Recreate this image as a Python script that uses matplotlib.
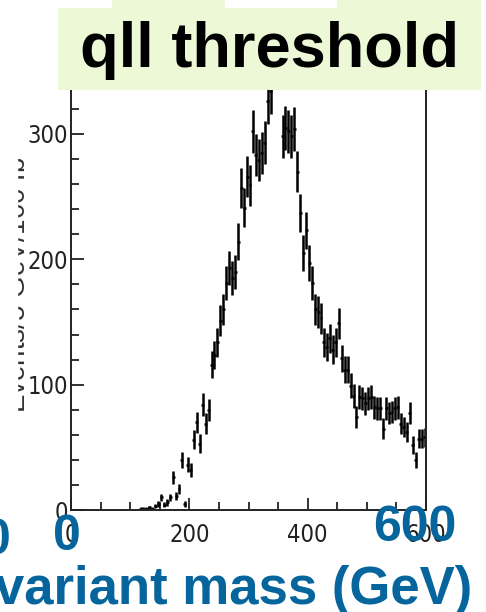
import numpy as np
import matplotlib
matplotlib.use("Agg")
import matplotlib.pyplot as plt
from matplotlib.patches import Rectangle
from matplotlib import font_manager
from matplotlib.ticker import MultipleLocator

# ===== DATA (5 GeV bins) =====
bin_lo = 115.0
bin_width = 5.0
counts = [
    1, 1, 1, 2, 1, 3, 5, 10, 4, 6,            # 115-165
    10, 26, 11, 17, 40, 5, 36, 32, 56, 70,     # 165-215
    53, 84, 69, 80, 116, 124, 134, 151, 160, 181,  # 215-265
    193, 185, 190, 214, 257, 241, 266, 259, 302, 283,  # 265-315
    279, 285, 293, 326, 334, 362, 375, 370, 298, 305,  # 315-365
    302, 298, 304, 270, 237, 205, 223, 197, 181, 160,  # 365-415
    158, 153, 134, 130, 137, 128, 134, 149, 121, 112,  # 415-465
    112, 99, 91, 74, 90, 89, 85, 89, 90, 82,    # 465-515
    81, 81, 65, 81, 77, 78, 81, 82, 69, 66,     # 515-565
    62, 77, 52, 40, 57, 57, 58,                 # 565-600
]
counts = np.array(counts, dtype=float)
centers = bin_lo + bin_width * (np.arange(len(counts)) + 0.5)
errors = np.sqrt(counts)

title = "qll threshold"
ylabel = "Events/5 GeV/100 fb$^{-1}$"
x_ticks = [0, 200, 400, 600]
y_ticks = [0, 100, 200, 300]
blue_labels = ["0", "0", "600"]
blue_title = "Invariant mass (GeV)"

# ===== FIGURE =====
W, H = 486, 612
fig = plt.figure(figsize=(W / 100, H / 100), dpi=100)

# narrow upright font for the tick labels, if one is installed
def is_plain(f):
    return f.style == "normal" and f.weight in (400, "normal", "regular")

narrow = [f for f in font_manager.fontManager.ttflist
          if is_plain(f) and f.name == "Liberation Sans Narrow"]
narrow += [f for f in font_manager.fontManager.ttflist
           if is_plain(f) and f.name == "DejaVu Sans" and f.stretch == "condensed"]
if narrow:
    tick_fp = font_manager.FontProperties(fname=narrow[0].fname, size=17)
else:
    tick_fp = font_manager.FontProperties(family="Liberation Sans", size=17)

def px_box(x0, y0, x1, y1):
    return (x0 / W, 1 - y1 / H), (x1 - x0) / W, (y1 - y0) / H

ax = fig.add_axes([71 / W, (H - 510) / H, 355 / W, 445 / H])
ax.errorbar(centers, counts, yerr=errors, xerr=bin_width / 2, fmt='none',
            ecolor='black', elinewidth=1.8, capsize=0)
ax.set_xlim(0, 600)
ax.set_ylim(0, 355)
ax.set_xticks(x_ticks)
ax.set_yticks(y_ticks)
ax.xaxis.set_minor_locator(MultipleLocator(50))
ax.yaxis.set_minor_locator(MultipleLocator(20))
ax.tick_params(which='both', direction='in', color='#222222', width=1.3)
ax.tick_params(which='major', length=9)
ax.tick_params(which='minor', length=5.5)
ax.tick_params(axis='y', which='major', pad=2)
ax.tick_params(axis='x', which='major', pad=9)
for lab in ax.get_xticklabels() + ax.get_yticklabels():
    lab.set_fontproperties(tick_fp)
    lab.set_color('#222222')
for sp in ax.spines.values():
    sp.set_linewidth(1.4)
    sp.set_color('#222222')

# rotated y label, partly hidden on the slide
fig.text(32 / W, 1 - 270 / H, ylabel, rotation=90, ha='right', va='center',
         fontsize=20, family='Liberation Sans', color='#333333')
xy, w, h = px_box(0, 95, 17, 480)
fig.add_artist(Rectangle(xy, w, h, transform=fig.transFigure, color='white', zorder=5))

# title box
green = '#edf8d7'
for (x0, y0, x1, y1) in [(58, 8, 481, 90), (112, 0, 225, 8), (337, 0, 481, 8)]:
    xy, w, h = px_box(x0, y0, x1, y1)
    fig.add_artist(Rectangle(xy, w, h, transform=fig.transFigure, color=green,
                             lw=0, zorder=10))
fig.text(269 / W, 1 - 50 / H, title, ha='center', va='center', fontsize=45.5,
         fontweight='bold', family='Liberation Sans', color='black', zorder=11)

# blue slide labels overlapping the plot
blue = '#06659c'
fig.text(11 / W, 1 - 541 / H, blue_labels[0], ha='right', va='center', fontsize=36,
         fontweight='bold', family='Liberation Sans', color=blue, zorder=12)
fig.text(67 / W, 1 - 537 / H, blue_labels[1], ha='center', va='center', fontsize=36,
         fontweight='bold', family='Liberation Sans', color=blue, zorder=12)
fig.text(415 / W, 1 - 528 / H, blue_labels[2], ha='center', va='center', fontsize=36,
         fontweight='bold', family='Liberation Sans', color=blue, zorder=12)
fig.text(472 / W, 1 - 590 / H, blue_title, ha='right', va='center', fontsize=38,
         fontweight='bold', family='Liberation Sans', color=blue, zorder=12)

fig.savefig('out.png', dpi=100)
